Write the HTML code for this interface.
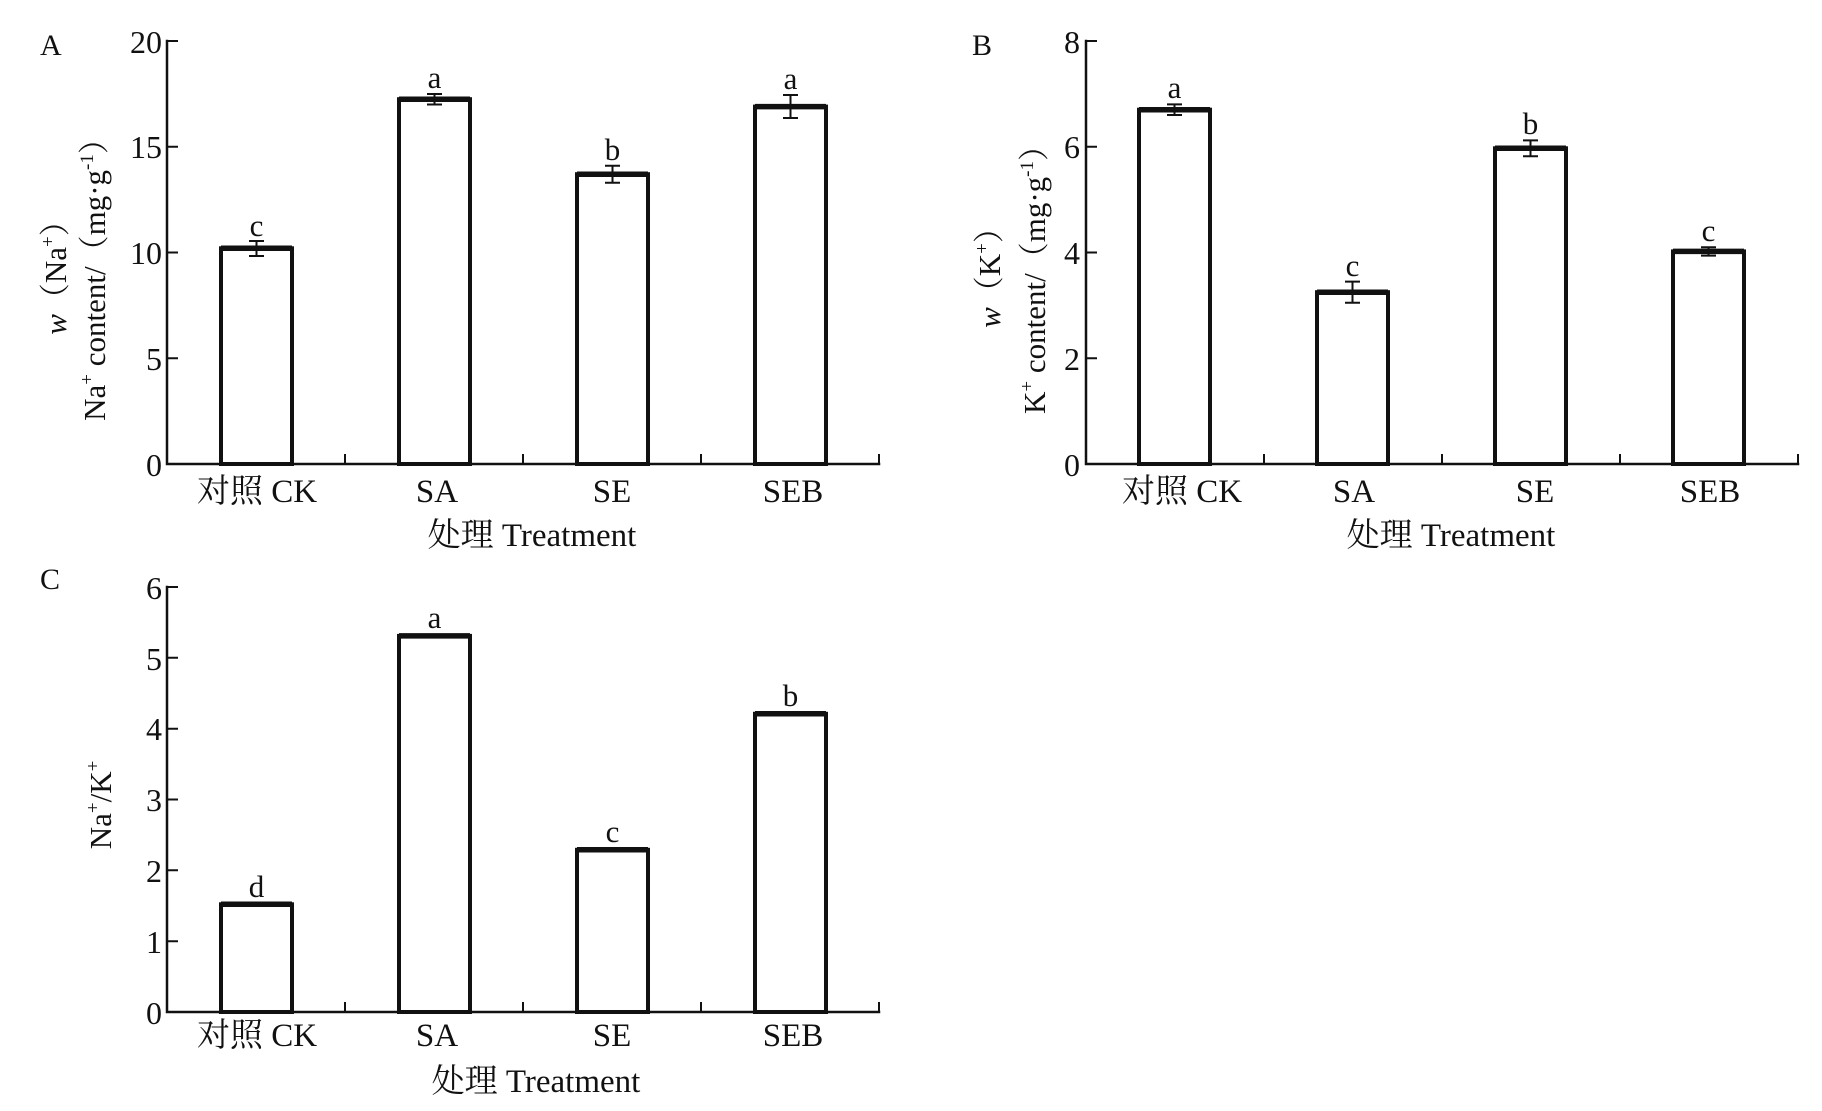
<!DOCTYPE html>
<html><head><meta charset="utf-8"><style>
html,body{margin:0;padding:0;background:#fff;}
svg{display:block;}
text{font-family:"Liberation Serif","Noto Serif CJK SC",serif;fill:#111;}
</style></head><body>
<svg width="1822" height="1111" viewBox="0 0 1822 1111" xmlns="http://www.w3.org/2000/svg">
<g stroke="#111" fill="none" stroke-linecap="square">
<path d="M167 41 V464 H879" stroke-width="2.5"/>
<path d="M167 41 H177 M167 146.75 H177 M167 252.5 H177 M167 358.25 H177 M345 463 V455 M523 463 V455 M701 463 V455 M879 463 V455" stroke-width="2"/>
<path d="M1086 41 V464 H1798" stroke-width="2.5"/>
<path d="M1086 41 H1096 M1086 146.75 H1096 M1086 252.5 H1096 M1086 358.25 H1096 M1264 463 V455 M1442 463 V455 M1620 463 V455 M1798 463 V455" stroke-width="2"/>
<path d="M167 587 V1012 H879" stroke-width="2.5"/>
<path d="M167 587 H177 M167 657.8 H177 M167 728.7 H177 M167 799.5 H177 M167 870.3 H177 M167 941.2 H177 M345 1011 V1003 M523 1011 V1003 M701 1011 V1003 M879 1011 V1003" stroke-width="2"/>
</g>
<g stroke="#111" fill="#fff" stroke-width="4">
<rect x="221" y="248.3" width="71" height="215.7"/>
<rect x="399" y="99.2" width="71" height="364.8"/>
<rect x="577" y="174.2" width="71" height="289.8"/>
<rect x="755" y="106.6" width="71" height="357.4"/>
<rect x="1139" y="109.7" width="71" height="354.3"/>
<rect x="1317" y="292.2" width="71" height="171.8"/>
<rect x="1495" y="148.3" width="71" height="315.7"/>
<rect x="1673" y="251.4" width="71" height="212.6"/>
<rect x="221" y="904.3" width="71" height="107.7"/>
<rect x="399" y="635.9" width="71" height="376.1"/>
<rect x="577" y="849.8" width="71" height="162.2"/>
<rect x="755" y="713.8" width="71" height="298.2"/>
</g>
<g stroke="#111" stroke-width="5.5">
<path d="M221 248.3 H292 M399 99.2 H470 M577 174.2 H648 M755 106.6 H826"/>
<path d="M1139 109.7 H1210 M1317 292.2 H1388 M1495 148.3 H1566 M1673 251.4 H1744"/>
<path d="M221 904.3 H292 M399 635.9 H470 M577 849.8 H648 M755 713.8 H826"/>
</g>
<g stroke="#111" stroke-width="2" fill="none">
<path d="M256.5 241 V256 M249 241 H264 M249 256 H264"/>
<path d="M434.5 94 V104.5 M427 94 H442 M427 104.5 H442"/>
<path d="M612.5 165.7 V182.7 M605 165.7 H620 M605 182.7 H620"/>
<path d="M790.5 95 V118 M783 95 H798 M783 118 H798"/>
<path d="M1174.5 104.4 V115 M1167 104.4 H1182 M1167 115 H1182"/>
<path d="M1352.5 281.6 V302.8 M1345 281.6 H1360 M1345 302.8 H1360"/>
<path d="M1530.5 140.4 V156.2 M1523 140.4 H1538 M1523 156.2 H1538"/>
<path d="M1708.5 247.2 V255.6 M1701 247.2 H1716 M1701 255.6 H1716"/>
</g>
<g font-size="32" text-anchor="end">
<text x="162" y="53">20</text><text x="162" y="158">15</text><text x="162" y="264">10</text><text x="162" y="370">5</text><text x="162" y="476">0</text>
<text x="1080" y="53">8</text><text x="1080" y="158">6</text><text x="1080" y="264">4</text><text x="1080" y="370">2</text><text x="1080" y="476">0</text>
<text x="162" y="599">6</text><text x="162" y="670">5</text><text x="162" y="740">4</text><text x="162" y="811">3</text><text x="162" y="882">2</text><text x="162" y="953">1</text><text x="162" y="1024">0</text>
</g>
<g font-size="33" text-anchor="middle">
<text x="257" y="502">对照 CK</text><text x="437" y="502">SA</text><text x="612" y="502">SE</text><text x="793" y="502">SEB</text>
<text x="1182" y="502">对照 CK</text><text x="1354" y="502">SA</text><text x="1535" y="502">SE</text><text x="1710" y="502">SEB</text>
<text x="257" y="1046">对照 CK</text><text x="437" y="1046">SA</text><text x="612" y="1046">SE</text><text x="793" y="1046">SEB</text>
<text x="532" y="546">处理 Treatment</text>
<text x="1451" y="546">处理 Treatment</text>
<text x="536" y="1092">处理 Treatment</text>
</g>
<g font-size="31" text-anchor="middle">
<text x="256.5" y="236">c</text><text x="434.5" y="88">a</text><text x="612.5" y="160">b</text><text x="790.5" y="89">a</text>
<text x="1174.5" y="98">a</text><text x="1352.5" y="276">c</text><text x="1530.5" y="134">b</text><text x="1708.5" y="241">c</text>
<text x="256.5" y="897">d</text><text x="434.5" y="628">a</text><text x="612.5" y="842">c</text><text x="790.5" y="706">b</text>
</g>
<g font-size="30">
<text x="40" y="55">A</text><text x="972" y="55">B</text><text x="40" y="589">C</text>
</g>
<g font-size="31" text-anchor="middle">
<text transform="translate(66,270) rotate(-90)"><tspan font-style="italic">w</tspan>（Na<tspan font-size="19" dy="-12">+</tspan><tspan dy="12">）</tspan></text>
<text transform="translate(105,272) rotate(-90)">Na<tspan font-size="19" dy="-12">+</tspan><tspan dy="12"> content/（mg·g</tspan><tspan font-size="19" dy="-12">-1</tspan><tspan dy="12">）</tspan></text>
<text transform="translate(1000,270) rotate(-90)"><tspan font-style="italic">w</tspan>（K<tspan font-size="19" dy="-12">+</tspan><tspan dy="12">）</tspan></text>
<text transform="translate(1045,272) rotate(-90)">K<tspan font-size="19" dy="-12">+</tspan><tspan dy="12"> content/（mg·g</tspan><tspan font-size="19" dy="-12">-1</tspan><tspan dy="12">）</tspan></text>
<text transform="translate(111,805) rotate(-90)">Na<tspan font-size="19" dy="-12">+</tspan><tspan dy="12">/K</tspan><tspan font-size="19" dy="-12">+</tspan></text>
</g>
</svg>
</body></html>
